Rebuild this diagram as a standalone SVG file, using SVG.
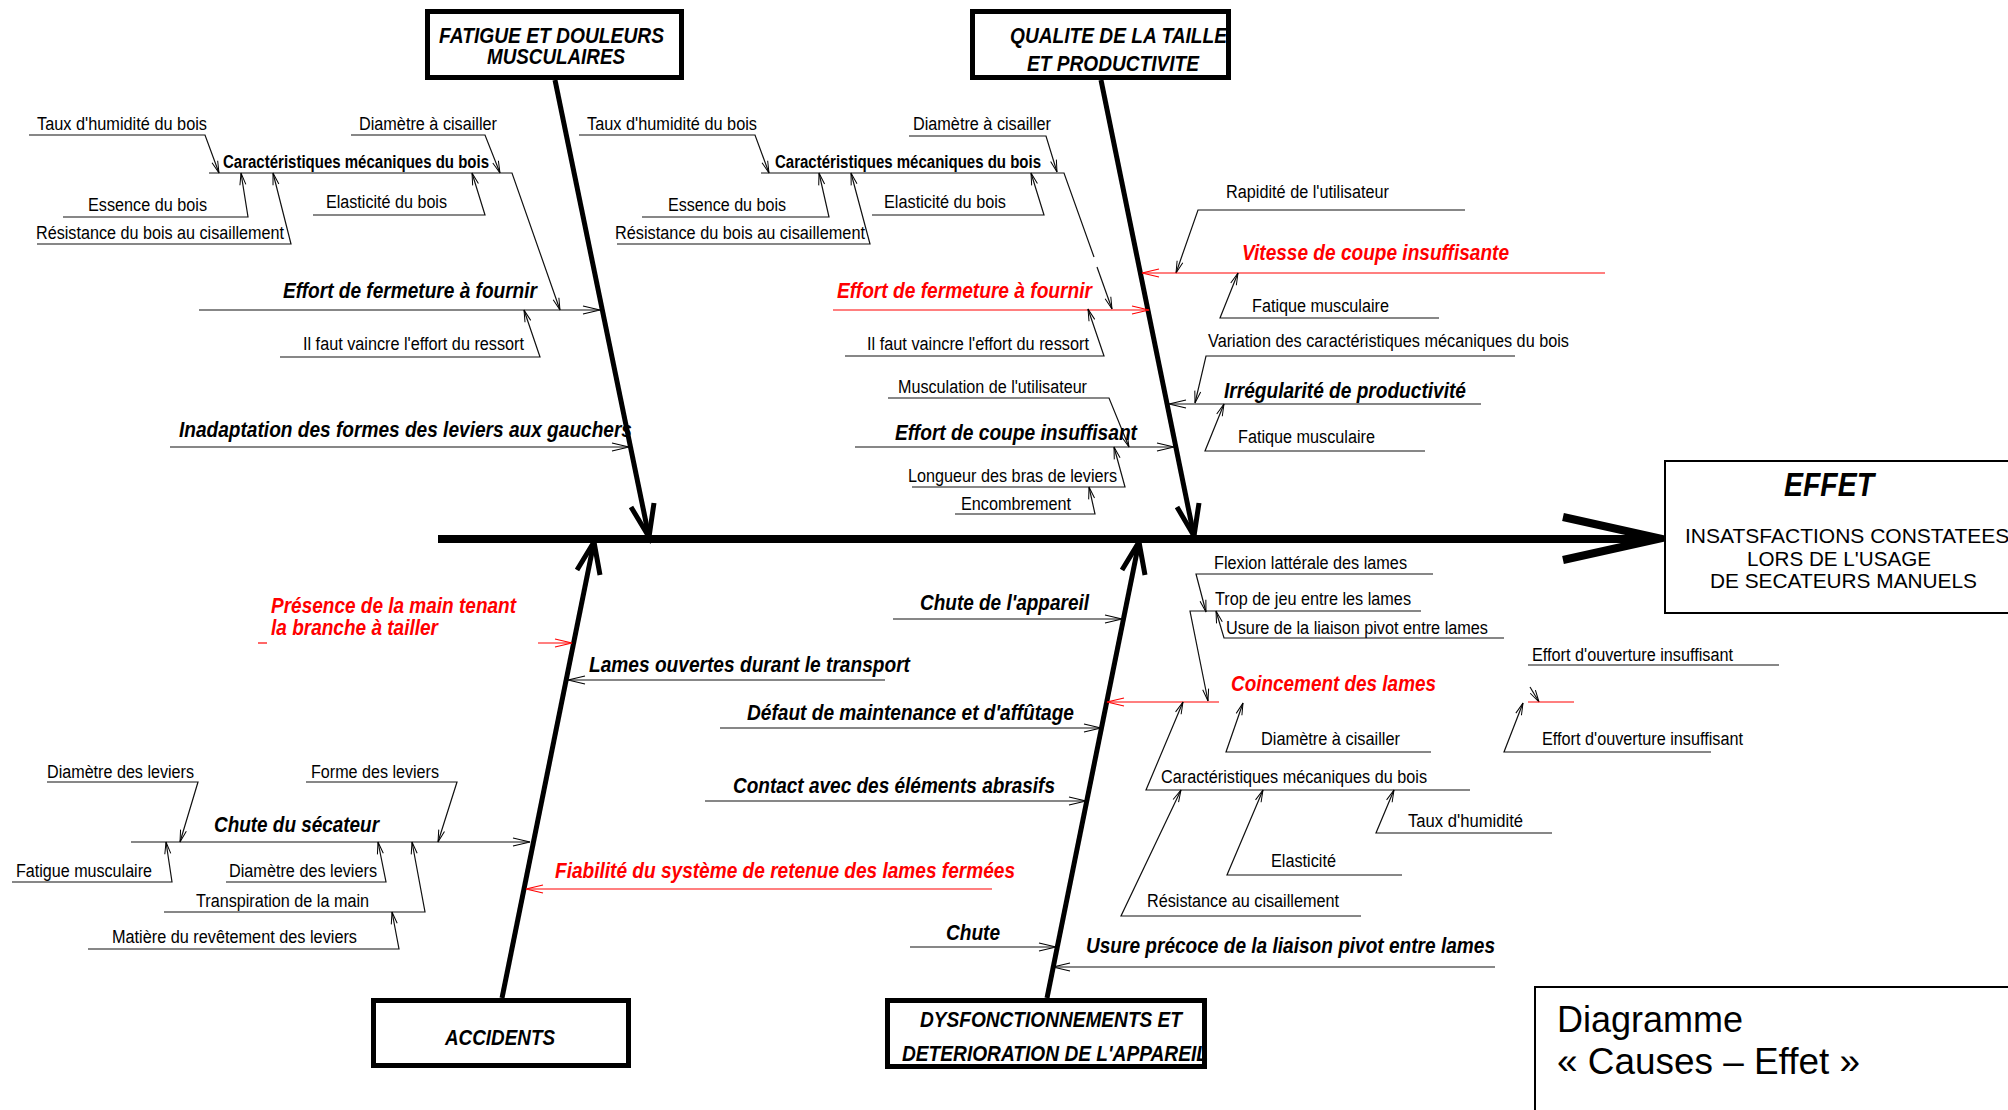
<svg xmlns="http://www.w3.org/2000/svg" width="2008" height="1110" viewBox="0 0 2008 1110">
<style>
text{font-family:"Liberation Sans",Arial,Helvetica,sans-serif;fill:#000}
.s{font-size:18px}
.bb{font-size:18px;font-weight:bold}
.bi{font-size:22px;font-weight:bold;font-style:italic}
.cat{font-size:22px;font-weight:bold;font-style:italic}
.r{fill:#ff0000}
.l{fill:none;stroke:#111;stroke-width:1.2}
.lr{fill:none;stroke:#ff0000;stroke-width:1.2}
.bone{fill:none;stroke:#000;stroke-width:5;stroke-linecap:butt}
.box{fill:#fff;stroke:#000;stroke-width:5}
.thin{fill:#fff;stroke:#000;stroke-width:2}
</style>
<defs>
<marker id="s" markerUnits="userSpaceOnUse" viewBox="-14 -5 15 10" markerWidth="15" markerHeight="10" refX="0" refY="0" orient="auto"><path d="M-12,-3 L0,0 L-12,3" fill="none" stroke="#000" stroke-width="1"/></marker>
<marker id="m" markerUnits="userSpaceOnUse" viewBox="-19 -6 20 12" markerWidth="20" markerHeight="12" refX="0" refY="0" orient="auto"><path d="M-17,-4 L0,0 L-17,4" fill="none" stroke="#000" stroke-width="1.2"/></marker>
<marker id="mr" markerUnits="userSpaceOnUse" viewBox="-19 -6 20 12" markerWidth="20" markerHeight="12" refX="0" refY="0" orient="auto"><path d="M-17,-4 L0,0 L-17,4" fill="none" stroke="#ff0000" stroke-width="1.2"/></marker>
</defs>
<rect width="2008" height="1110" fill="#fff"/>

<g id="connectors">
<!-- spine -->
<line x1="438" y1="539" x2="1658" y2="539" stroke="#000" stroke-width="8"/>
<polyline points="1563,517 1660,538.5 1563,560" fill="none" stroke="#000" stroke-width="8" stroke-miterlimit="10"/>
<!-- main bones -->
<line class="bone" x1="555" y1="80" x2="649" y2="537"/>
<polyline class="bone" points="631,507 649,537 654,503"/>
<line class="bone" x1="1101" y1="80" x2="1194" y2="536"/>
<polyline class="bone" points="1177,507 1194,536 1199,503"/>
<line class="bone" x1="502" y1="998" x2="594" y2="542"/>
<polyline class="bone" points="577,570 594,542 600,575"/>
<line class="bone" x1="1047" y1="998" x2="1139" y2="542"/>
<polyline class="bone" points="1122,570 1139,542 1145,575"/>

<!-- upper left -->
<polyline class="l" points="29,135 205,135 219,173" marker-end="url(#s)"/>
<polyline class="l" points="351,135 485,135 500,173" marker-end="url(#s)"/>
<polyline class="l" points="63,217 248,217 241,173" marker-end="url(#s)"/>
<polyline class="l" points="37,244 291,244 273,173" marker-end="url(#s)"/>
<polyline class="l" points="313,215 485,215 472,173" marker-end="url(#s)"/>
<polyline class="l" points="209,173 512,173 560,310" marker-end="url(#s)"/>
<line class="l" x1="199" y1="310" x2="600" y2="310" marker-end="url(#m)"/>
<polyline class="l" points="280,357 540,357 524,310" marker-end="url(#s)"/>
<line class="l" x1="170" y1="447" x2="629" y2="447" marker-end="url(#m)"/>

<!-- upper middle -->
<polyline class="l" points="579,135 755,135 769,173" marker-end="url(#s)"/>
<polyline class="l" points="909,136 1046,136 1057,172" marker-end="url(#s)"/>
<polyline class="l" points="642,217 829,217 819,173" marker-end="url(#s)"/>
<polyline class="l" points="617,244 870,244 851,173" marker-end="url(#s)"/>
<polyline class="l" points="872,215 1044,215 1031,173" marker-end="url(#s)"/>
<polyline class="l" points="761,173 1064,173 1094,257"/>
<line class="l" x1="1097" y1="267" x2="1112" y2="309" marker-end="url(#s)"/>
<line class="lr" x1="833" y1="310" x2="1149" y2="310" marker-end="url(#mr)"/>
<polyline class="l" points="845,356 1104,356 1088,309" marker-end="url(#s)"/>
<polyline class="l" points="888,398 1109,398 1129,447" marker-end="url(#s)"/>
<line class="l" x1="855" y1="447" x2="1174" y2="447" marker-end="url(#m)"/>
<polyline class="l" points="912,487 1125,487 1114,447" marker-end="url(#s)"/>
<polyline class="l" points="955,514 1095,514 1089,487" marker-end="url(#s)"/>

<!-- upper right -->
<polyline class="l" points="1465,210 1198,210 1176,273" marker-end="url(#s)"/>
<line class="lr" x1="1605" y1="273" x2="1142" y2="273" marker-end="url(#mr)"/>
<polyline class="l" points="1439,318 1220,318 1238,273" marker-end="url(#s)"/>
<polyline class="l" points="1515,356 1206,356 1195,403" marker-end="url(#s)"/>
<line class="l" x1="1481" y1="404" x2="1169" y2="404" marker-end="url(#m)"/>
<polyline class="l" points="1425,451 1205,451 1224,404" marker-end="url(#s)"/>

<!-- lower right -->
<polyline class="l" points="1433,574 1196,574 1206,612" marker-end="url(#s)"/>
<polyline class="l" points="1421,611 1190,611 1208,701" marker-end="url(#s)"/>
<polyline class="l" points="1504,638 1224,638 1216,611" marker-end="url(#s)"/>
<line class="lr" x1="1219" y1="702" x2="1107" y2="702" marker-end="url(#mr)"/>
<polyline class="l" points="1431,752 1226,752 1243,703" marker-end="url(#s)"/>
<polyline class="l" points="1470,790 1146,790 1183,702" marker-end="url(#s)"/>
<polyline class="l" points="1552,833 1376,833 1394,790" marker-end="url(#s)"/>
<polyline class="l" points="1402,875 1227,875 1263,790" marker-end="url(#s)"/>
<polyline class="l" points="1361,916 1121,916 1181,790" marker-end="url(#s)"/>
<line class="l" x1="1495" y1="967" x2="1053" y2="967" marker-end="url(#m)"/>
<line class="l" x1="910" y1="947" x2="1056" y2="947" marker-end="url(#m)"/>
<line class="l" x1="705" y1="801" x2="1086" y2="801" marker-end="url(#m)"/>
<line class="l" x1="720" y1="728" x2="1101" y2="728" marker-end="url(#m)"/>
<line class="l" x1="893" y1="619" x2="1122" y2="619" marker-end="url(#m)"/>
<line class="l" x1="1528" y1="665" x2="1779" y2="665"/>
<line class="l" x1="1530" y1="687" x2="1539" y2="702" marker-end="url(#s)"/>
<line class="lr" x1="1528" y1="702" x2="1574" y2="702"/>
<polyline class="l" points="1711,752 1504,752 1523,703" marker-end="url(#s)"/>

<!-- lower left -->
<line class="l" x1="885" y1="680" x2="568" y2="680" marker-end="url(#m)"/>
<line class="lr" x1="992" y1="889" x2="526" y2="889" marker-end="url(#mr)"/>
<line class="lr" x1="538" y1="643" x2="572" y2="643" marker-end="url(#mr)"/>
<line class="lr" x1="258" y1="643" x2="267" y2="643"/>
<line class="l" x1="131" y1="842" x2="530" y2="842" marker-end="url(#m)"/>
<polyline class="l" points="47,782 198,782 180,842" marker-end="url(#s)"/>
<polyline class="l" points="306,782 457,782 438,842" marker-end="url(#s)"/>
<polyline class="l" points="12,882 172,882 166,842" marker-end="url(#s)"/>
<polyline class="l" points="226,882 386,882 378,842" marker-end="url(#s)"/>
<polyline class="l" points="164,912 425,912 412,842" marker-end="url(#s)"/>
<polyline class="l" points="88,949 399,949 392,912" marker-end="url(#s)"/>
</g>

<!-- category boxes -->
<g id="cat-fatigue">
<rect class="box" x="427.5" y="11.5" width="254" height="66"/>
<text class="cat" x="439" y="43" textLength="225" lengthAdjust="spacingAndGlyphs">FATIGUE ET DOULEURS</text>
<text class="cat" x="487" y="64" textLength="138" lengthAdjust="spacingAndGlyphs">MUSCULAIRES</text>
</g>
<g id="cat-qualite">
<rect class="box" x="972.5" y="11.5" width="256" height="66"/>
<text class="cat" x="1010" y="43" textLength="217" lengthAdjust="spacingAndGlyphs">QUALITE DE LA TAILLE</text>
<text class="cat" x="1027" y="71" textLength="172" lengthAdjust="spacingAndGlyphs">ET PRODUCTIVITE</text>
</g>
<g id="cat-accidents">
<rect class="box" x="373.5" y="1000.5" width="255" height="65"/>
<text class="cat" x="445" y="1045" textLength="110" lengthAdjust="spacingAndGlyphs">ACCIDENTS</text>
</g>
<g id="cat-dysf">
<rect class="box" x="887.5" y="1000.5" width="317" height="66"/>
<text class="cat" x="920" y="1027" textLength="262" lengthAdjust="spacingAndGlyphs">DYSFONCTIONNEMENTS ET</text>
<text class="cat" x="902" y="1061" textLength="306" lengthAdjust="spacingAndGlyphs">DETERIORATION DE L'APPAREIL</text>
</g>
<g id="effet">
<rect class="thin" x="1665" y="461" width="400" height="152"/>
<text x="1784" y="496" style="font-size:34px;font-weight:bold;font-style:italic" textLength="90" lengthAdjust="spacingAndGlyphs">EFFET</text>
<text x="1685" y="543" style="font-size:21px">INSATSFACTIONS CONSTATEES</text>
<text x="1747" y="566" style="font-size:21px" textLength="184" lengthAdjust="spacingAndGlyphs">LORS DE L'USAGE</text>
<text x="1710" y="588" style="font-size:21px" textLength="267" lengthAdjust="spacingAndGlyphs">DE SECATEURS MANUELS</text>
</g>
<g id="title">
<rect class="thin" x="1535" y="987" width="500" height="200"/>
<text x="1557" y="1032" style="font-size:36px">Diagramme</text>
<text x="1557" y="1074" style="font-size:36px" textLength="303" lengthAdjust="spacingAndGlyphs">« Causes – Effet »</text>
</g>

<!-- upper left nodes -->
<g id="n-taux-l"><text class="s" x="37" y="130" textLength="170" lengthAdjust="spacingAndGlyphs">Taux d'humidité du bois</text></g>
<g id="n-diam-l"><text class="s" x="359" y="130" textLength="138" lengthAdjust="spacingAndGlyphs">Diamètre à cisailler</text></g>
<g id="n-carac-l"><text class="bb" x="223" y="168" textLength="266" lengthAdjust="spacingAndGlyphs">Caractéristiques mécaniques du bois</text></g>
<g id="n-essence-l"><text class="s" x="88" y="211" textLength="119" lengthAdjust="spacingAndGlyphs">Essence du bois</text></g>
<g id="n-resist-l"><text class="s" x="36" y="239" textLength="248" lengthAdjust="spacingAndGlyphs">Résistance du bois au cisaillement</text></g>
<g id="n-elast-l"><text class="s" x="326" y="208" textLength="121" lengthAdjust="spacingAndGlyphs">Elasticité du bois</text></g>
<g id="n-effort-l"><text class="bi" x="283" y="298" textLength="254" lengthAdjust="spacingAndGlyphs">Effort de fermeture à fournir</text></g>
<g id="n-ilfaut-l"><text class="s" x="303" y="350" textLength="221" lengthAdjust="spacingAndGlyphs">Il faut vaincre l'effort du ressort</text></g>
<g id="n-inadapt"><text class="bi" x="179" y="437" textLength="453" lengthAdjust="spacingAndGlyphs">Inadaptation des formes des leviers aux gauchers</text></g>

<!-- upper middle nodes -->
<g id="n-taux-r"><text class="s" x="587" y="130" textLength="170" lengthAdjust="spacingAndGlyphs">Taux d'humidité du bois</text></g>
<g id="n-diam-r"><text class="s" x="913" y="130" textLength="138" lengthAdjust="spacingAndGlyphs">Diamètre à cisailler</text></g>
<g id="n-carac-r"><text class="bb" x="775" y="168" textLength="266" lengthAdjust="spacingAndGlyphs">Caractéristiques mécaniques du bois</text></g>
<g id="n-essence-r"><text class="s" x="668" y="211" textLength="118" lengthAdjust="spacingAndGlyphs">Essence du bois</text></g>
<g id="n-resist-r"><text class="s" x="615" y="239" textLength="250" lengthAdjust="spacingAndGlyphs">Résistance du bois au cisaillement</text></g>
<g id="n-elast-r"><text class="s" x="884" y="208" textLength="122" lengthAdjust="spacingAndGlyphs">Elasticité du bois</text></g>
<g id="n-effort-r"><text class="bi r" x="837" y="298" textLength="255" lengthAdjust="spacingAndGlyphs">Effort de fermeture à fournir</text></g>
<g id="n-ilfaut-r"><text class="s" x="867" y="350" textLength="222" lengthAdjust="spacingAndGlyphs">Il faut vaincre l'effort du ressort</text></g>
<g id="n-muscu"><text class="s" x="898" y="393" textLength="189" lengthAdjust="spacingAndGlyphs">Musculation de l'utilisateur</text></g>
<g id="n-coupe"><text class="bi" x="895" y="440" textLength="242" lengthAdjust="spacingAndGlyphs">Effort de coupe insuffisant</text></g>
<g id="n-longueur"><text class="s" x="908" y="482" textLength="209" lengthAdjust="spacingAndGlyphs">Longueur des bras de leviers</text></g>
<g id="n-encomb"><text class="s" x="961" y="510" textLength="110" lengthAdjust="spacingAndGlyphs">Encombrement</text></g>

<!-- upper right nodes -->
<g id="n-rapid"><text class="s" x="1226" y="198" textLength="163" lengthAdjust="spacingAndGlyphs">Rapidité de l'utilisateur</text></g>
<g id="n-vitesse"><text class="bi r" x="1242" y="260" textLength="267" lengthAdjust="spacingAndGlyphs">Vitesse de coupe insuffisante</text></g>
<g id="n-fatiq1"><text class="s" x="1252" y="312" textLength="137" lengthAdjust="spacingAndGlyphs">Fatique musculaire</text></g>
<g id="n-variation"><text class="s" x="1208" y="347" textLength="361" lengthAdjust="spacingAndGlyphs">Variation des caractéristiques mécaniques du bois</text></g>
<g id="n-irreg"><text class="bi" x="1224" y="398" textLength="242" lengthAdjust="spacingAndGlyphs">Irrégularité de productivité</text></g>
<g id="n-fatiq2"><text class="s" x="1238" y="443" textLength="137" lengthAdjust="spacingAndGlyphs">Fatique musculaire</text></g>

<!-- lower right nodes -->
<g id="n-flexion"><text class="s" x="1214" y="569" textLength="193" lengthAdjust="spacingAndGlyphs">Flexion lattérale des lames</text></g>
<g id="n-jeu"><text class="s" x="1215" y="605" textLength="196" lengthAdjust="spacingAndGlyphs">Trop de jeu entre les lames</text></g>
<g id="n-usure-l"><text class="s" x="1226" y="634" textLength="262" lengthAdjust="spacingAndGlyphs">Usure de la liaison pivot entre lames</text></g>
<g id="n-coinc"><text class="bi r" x="1231" y="691" textLength="205" lengthAdjust="spacingAndGlyphs">Coincement des lames</text></g>
<g id="n-diam-lo"><text class="s" x="1261" y="745" textLength="139" lengthAdjust="spacingAndGlyphs">Diamètre à cisailler</text></g>
<g id="n-carac-lo"><text class="s" x="1161" y="783" textLength="266" lengthAdjust="spacingAndGlyphs">Caractéristiques mécaniques du bois</text></g>
<g id="n-taux-lo"><text class="s" x="1408" y="827" textLength="115" lengthAdjust="spacingAndGlyphs">Taux d'humidité</text></g>
<g id="n-elast-lo"><text class="s" x="1271" y="867" textLength="65" lengthAdjust="spacingAndGlyphs">Elasticité</text></g>
<g id="n-resist-lo"><text class="s" x="1147" y="907" textLength="192" lengthAdjust="spacingAndGlyphs">Résistance au cisaillement</text></g>
<g id="n-usure-p"><text class="bi" x="1086" y="953" textLength="409" lengthAdjust="spacingAndGlyphs">Usure précoce de la liaison pivot entre lames</text></g>
<g id="n-chute"><text class="bi" x="946" y="940" textLength="54" lengthAdjust="spacingAndGlyphs">Chute</text></g>
<g id="n-contact"><text class="bi" x="733" y="793" textLength="322" lengthAdjust="spacingAndGlyphs">Contact avec des éléments abrasifs</text></g>
<g id="n-defaut"><text class="bi" x="747" y="720" textLength="327" lengthAdjust="spacingAndGlyphs">Défaut de maintenance et d'affûtage</text></g>
<g id="n-chute-app"><text class="bi" x="920" y="610" textLength="169" lengthAdjust="spacingAndGlyphs">Chute de l'appareil</text></g>
<g id="n-ouv1"><text class="s" x="1532" y="661" textLength="201" lengthAdjust="spacingAndGlyphs">Effort d'ouverture insuffisant</text></g>
<g id="n-ouv2"><text class="s" x="1542" y="745" textLength="201" lengthAdjust="spacingAndGlyphs">Effort d'ouverture insuffisant</text></g>

<!-- lower left nodes -->
<g id="n-presence">
<text class="bi r" x="271" y="613" textLength="245" lengthAdjust="spacingAndGlyphs">Présence de la main tenant</text>
<text class="bi r" x="271" y="635" textLength="167" lengthAdjust="spacingAndGlyphs">la branche à tailler</text>
</g>
<g id="n-lames"><text class="bi" x="589" y="672" textLength="321" lengthAdjust="spacingAndGlyphs">Lames ouvertes durant le transport</text></g>
<g id="n-fiab"><text class="bi r" x="555" y="878" textLength="460" lengthAdjust="spacingAndGlyphs">Fiabilité du système de retenue des lames fermées</text></g>
<g id="n-chute-sec"><text class="bi" x="214" y="832" textLength="165" lengthAdjust="spacingAndGlyphs">Chute du sécateur</text></g>
<g id="n-diamlev1"><text class="s" x="47" y="778" textLength="147" lengthAdjust="spacingAndGlyphs">Diamètre des leviers</text></g>
<g id="n-forme"><text class="s" x="311" y="778" textLength="128" lengthAdjust="spacingAndGlyphs">Forme des leviers</text></g>
<g id="n-fatig-m"><text class="s" x="16" y="877" textLength="136" lengthAdjust="spacingAndGlyphs">Fatigue musculaire</text></g>
<g id="n-diamlev2"><text class="s" x="229" y="877" textLength="148" lengthAdjust="spacingAndGlyphs">Diamètre des leviers</text></g>
<g id="n-transp"><text class="s" x="196" y="907" textLength="173" lengthAdjust="spacingAndGlyphs">Transpiration de la main</text></g>
<g id="n-matiere"><text class="s" x="112" y="943" textLength="245" lengthAdjust="spacingAndGlyphs">Matière du revêtement des leviers</text></g>
</svg>
